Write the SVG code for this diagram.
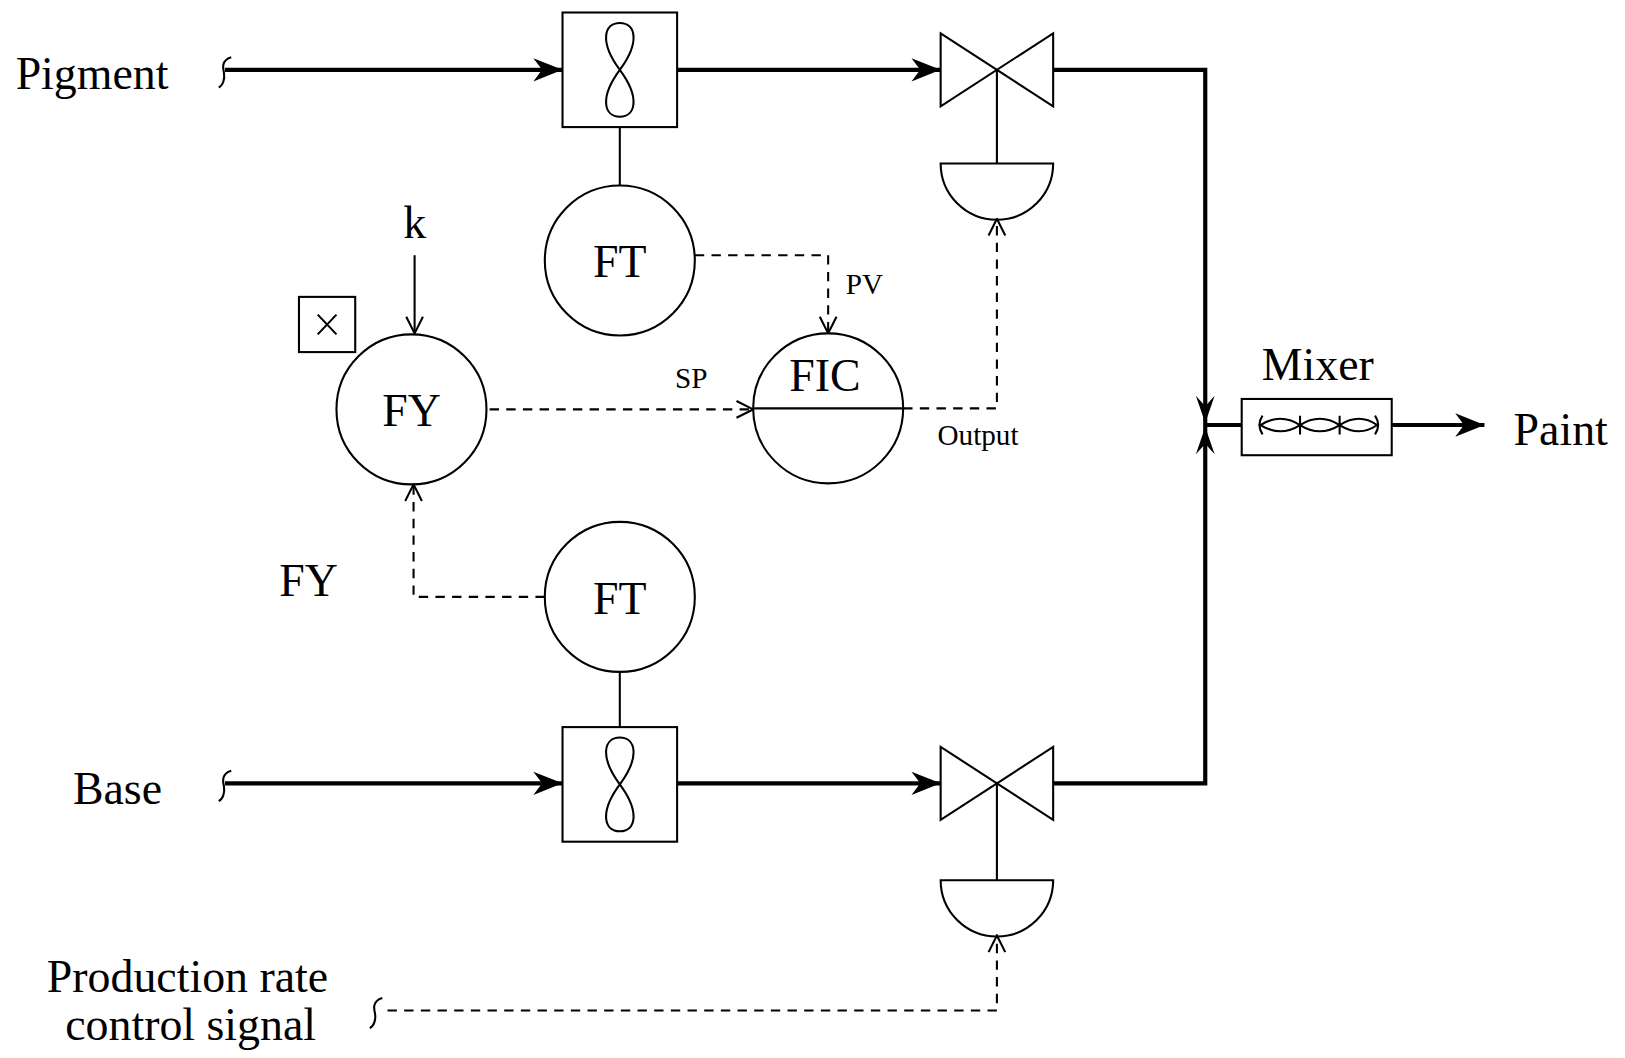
<svg xmlns="http://www.w3.org/2000/svg" width="1625" height="1058" viewBox="0 0 1625 1058">
<style>
text{font-family:"Liberation Serif",serif;fill:#000}
.big{font-size:44px}.sm{font-size:28px}
.p{stroke:#000;stroke-width:4;fill:none}
.t{stroke:#000;stroke-width:2;fill:none}
.d{stroke:#000;stroke-width:2;fill:none;stroke-dasharray:9,7}
</style>
<defs>
<marker id="pa" viewBox="0 0 10 10" refX="10" refY="5" markerWidth="7" markerHeight="7" orient="auto"><path d="M0,1 L10,5 L0,9 L3,5z" fill="#000"/></marker>
<marker id="oa" viewBox="0 0 20 20" refX="19" refY="10" markerWidth="20" markerHeight="20" markerUnits="userSpaceOnUse" orient="auto"><path d="M3,2 L19,10 L3,18" fill="none" stroke="#000" stroke-width="2"/></marker>
</defs>
<rect width="1625" height="1058" fill="#fff"/>
<g transform="scale(1.0417)">
<g id="labels">
<text class="big" x="15" y="85">Pigment</text>
<text class="big" x="70" y="772">Base</text>
<text class="big" x="180" y="952" text-anchor="middle">Production rate</text>
<text class="big" x="183" y="998" text-anchor="middle">control signal</text>
<text class="big" x="268" y="572">FY</text>
<text class="big" x="398" y="228" text-anchor="middle">k</text>
<text class="big" x="1453" y="427">Paint</text>
<text class="big" x="1265" y="365" text-anchor="middle">Mixer</text>
<text class="sm" x="812" y="282">PV</text>
<text class="sm" x="648" y="372">SP</text>
<text class="sm" x="900" y="427">Output</text>
</g>
<g id="connectors">
<path class="t" d="M222,55 C212,58 214,66 215,70 C216,76 214,82 210,84"/>
<path class="t" d="M222,740 C212,743 214,751 215,755 C216,761 214,767 210,769"/>
<path class="t" d="M367,958 C357,961 359,969 360,973 C361,979 359,985 355,987"/>
<path class="p" d="M216,67 H540" marker-end="url(#pa)"/>
<path class="p" d="M650,67 H903" marker-end="url(#pa)"/>
<path class="p" d="M216,752 H540" marker-end="url(#pa)"/>
<path class="p" d="M650,752 H903" marker-end="url(#pa)"/>
<path class="p" d="M1011,67 H1157 V408"/>
<path class="p" d="M1011,752 H1157 V408"/>
<path d="M1148,380 L1157,406 L1166,380 L1157,390z M1148,436 L1157,410 L1166,436 L1157,426z" fill="#000"/>
<path class="p" d="M1157,408 H1192"/>
<path class="p" d="M1336,408 H1425" marker-end="url(#pa)"/>
<path class="t" d="M595,122 V178 M595,645 V698 M957,67 V157 M957,752 V845"/>
<path class="t" d="M398,245 V320" marker-end="url(#oa)"/>
<path class="d" d="M667,245 H795 V320" marker-end="url(#oa)"/>
<path class="d" d="M470,393 H723" marker-end="url(#oa)"/>
<path class="d" d="M867,392 H957 V210" marker-end="url(#oa)"/>
<path class="d" d="M523,573 H397 V465" marker-end="url(#oa)"/>
<path class="d" d="M372,970 H957 V898" marker-end="url(#oa)"/>
</g>
<g id="fm1"><rect class="t" x="540" y="12" width="110" height="110"/><path class="t" d="M595,67 C575,40 580,22 595,22 C610,22 615,40 595,67 C575,94 580,112 595,112 C610,112 615,94 595,67z"/></g>
<g id="fm2"><rect class="t" x="540" y="698" width="110" height="110"/><path class="t" d="M595,753 C575,726 580,708 595,708 C610,708 615,726 595,753 C575,780 580,798 595,798 C610,798 615,780 595,753z"/></g>
<g id="v1"><path class="t" d="M903,32 L1011,102 V32 L903,102z"/><path class="t" d="M903,157 H1011 A54,54 0 0 1 903,157z"/></g>
<g id="v2"><path class="t" d="M903,717 L1011,787 V717 L903,787z"/><path class="t" d="M903,845 H1011 A54,54 0 0 1 903,845z"/></g>
<g id="ft1"><circle class="t" cx="595" cy="250" r="72"/><text class="big" x="595" y="266" text-anchor="middle">FT</text></g>
<g id="ft2"><circle class="t" cx="595" cy="573" r="72"/><text class="big" x="595" y="589" text-anchor="middle">FT</text></g>
<g id="fy"><circle class="t" cx="395" cy="393" r="72"/><text class="big" x="395" y="409" text-anchor="middle">FY</text><rect class="t" x="287" y="285" width="54" height="53"/><path class="t" d="M305,302 L323,321 M323,302 L305,321"/></g>
<g id="fic"><circle class="t" cx="795" cy="392" r="72"/><path class="t" d="M723,392 H867"/><text class="big" x="792" y="375" text-anchor="middle">FIC</text></g>
<g id="mixer"><rect class="t" x="1192" y="383" width="144" height="54"/><path class="t" d="M1210,408 Q1229,396 1248,408 Q1267,396 1286,408 Q1305,396 1322,408 M1210,408 Q1229,420 1248,408 Q1267,420 1286,408 Q1305,420 1322,408 M1212,399 Q1206,408 1212,417 M1248,399 V417 M1286,399 V417 M1320,399 Q1326,408 1320,417"/></g>
</g>
</svg>
